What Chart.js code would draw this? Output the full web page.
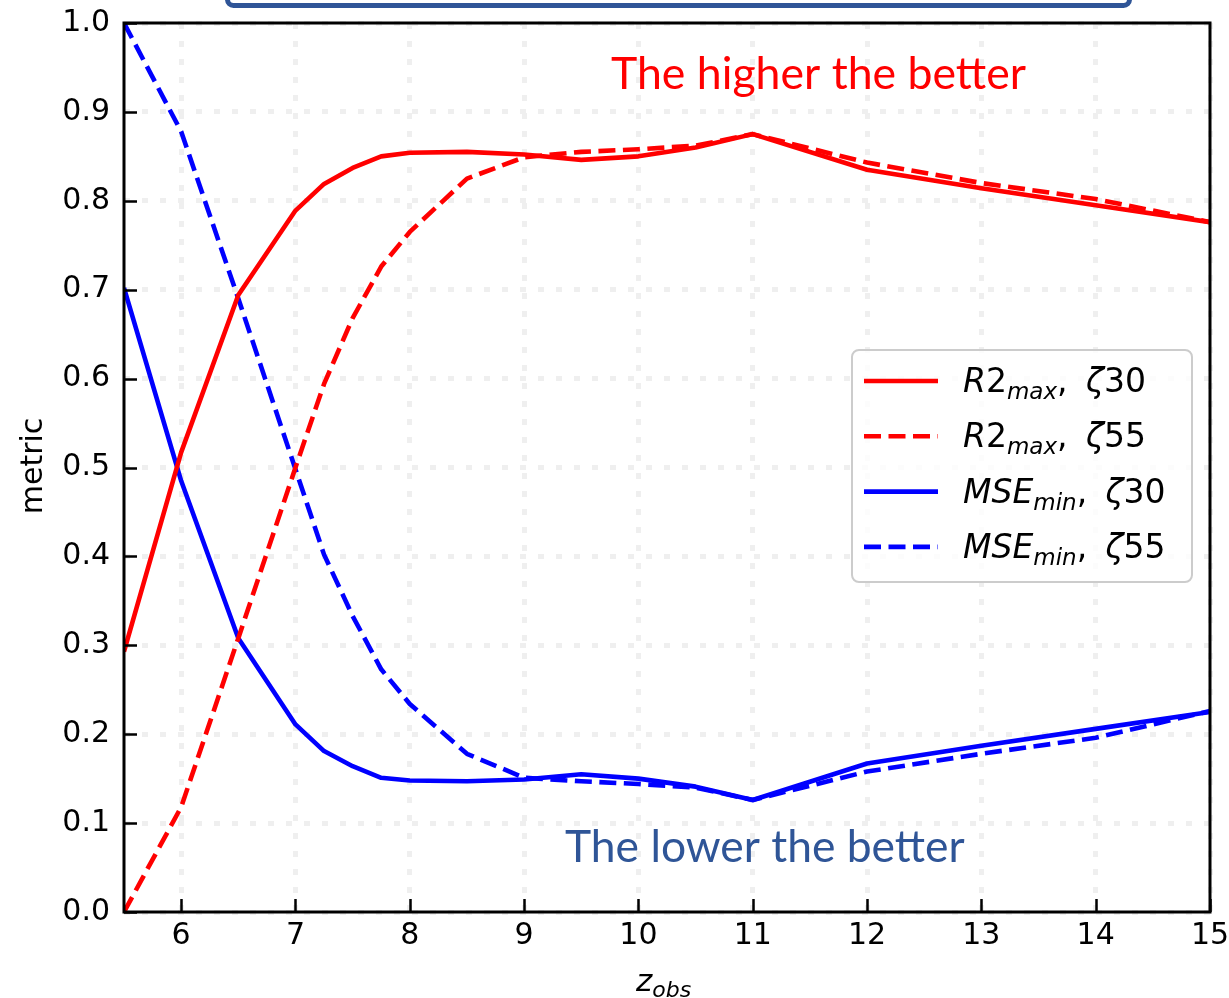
<!DOCTYPE html>
<html>
<head>
<meta charset="utf-8">
<script src="https://cdn.jsdelivr.net/npm/chart.js@4.4.1/dist/chart.umd.min.js"></script>
<style>
  html, body { margin: 0; padding: 0; background: #fff; }
  #wrap { width: 1229px; height: 998px; }
</style>
</head>
<body>
<div id="wrap"><canvas id="metricChart" width="1229" height="998"></canvas></div>
<script>
// z_obs sample positions
const zObs = [5.5, 6, 6.5, 7, 7.25, 7.5, 7.75, 8, 8.5, 9, 9.5, 10, 10.5, 11, 12, 13, 14, 15];

// series
const r2Zeta30 = [0.293, 0.517, 0.694, 0.789, 0.819, 0.837, 0.850, 0.854, 0.855, 0.852, 0.846, 0.850, 0.860, 0.875, 0.835, 0.814, 0.795, 0.776];
const r2Zeta55 = [0.0, 0.118, 0.308, 0.500, 0.594, 0.668, 0.726, 0.765, 0.825, 0.849, 0.855, 0.858, 0.862, 0.875, 0.843, 0.820, 0.802, 0.776];
const mseZeta30 = [0.702, 0.485, 0.308, 0.211, 0.181, 0.164, 0.151, 0.148, 0.147, 0.149, 0.155, 0.150, 0.141, 0.126, 0.167, 0.187, 0.206, 0.225];
const mseZeta55 = [1.0, 0.878, 0.690, 0.498, 0.402, 0.333, 0.273, 0.234, 0.178, 0.151, 0.147, 0.144, 0.140, 0.126, 0.158, 0.178, 0.196, 0.226];

// legend pieces
const seriesMetric = ['R2', 'R2', 'MSE', 'MSE'];
const seriesSub = ['max', 'max', 'min', 'min'];
const seriesZeta = ['30', '55', '30', '55'];

// ticks
const xTicks = [6, 7, 8, 9, 10, 11, 12, 13, 14, 15];
const yTicks = [0.0, 0.1, 0.2, 0.3, 0.4, 0.5, 0.6, 0.7, 0.8, 0.9, 1.0];

const annoHigh = 'The higher the better';
const annoLow = 'The lower the better';

function pts(ys) {
    return zObs.map(function(x, i) { return { x: x, y: ys[i] }; });
}

var seriesValues = [r2Zeta30, r2Zeta55, mseZeta30, mseZeta55];
var seriesColors = ['#ff0000', '#ff0000', '#0000ff', '#0000ff'];
var seriesDash = [[], [17, 7.5], [], [17, 7.5]];

var datasets = seriesValues.map(function(vals, i) {
    return {
        label: seriesMetric[i] + seriesSub[i] + ', ζ' + seriesZeta[i],
        data: pts(vals),
        borderColor: seriesColors[i],
        backgroundColor: seriesColors[i],
        borderWidth: 4.6,
        borderDash: seriesDash[i],
        borderJoinStyle: 'round',
        pointRadius: 0,
        tension: 0,
        fill: false
    };
});

var MATH = '"DejaVu Sans"';

// frame, inward ticks, legend, axis titles and the annotations
var decorations = {
    id: 'decorations',
    afterDraw: function(chart) {
        var ctx = chart.ctx;
        var a = chart.chartArea;
        var xs = chart.scales.x, ys = chart.scales.y;
        ctx.save();

        // inward ticks
        ctx.strokeStyle = '#000';
        ctx.lineWidth = 2.5;
        ctx.beginPath();
        xTicks.forEach(function(v) {
            var px = Math.round(xs.getPixelForValue(v)) + 0.5;
            ctx.moveTo(px, a.bottom);
            ctx.lineTo(px, a.bottom - 13);
        });
        yTicks.forEach(function(v) {
            var py = Math.round(ys.getPixelForValue(v)) + 0.5;
            ctx.moveTo(a.left, py);
            ctx.lineTo(a.left + 13, py);
        });
        ctx.stroke();

        // frame
        ctx.lineWidth = 3;
        ctx.strokeRect(a.left, a.top, a.right - a.left, a.bottom - a.top);

        // text box edge peeking in at the top
        ctx.strokeStyle = '#2f5597';
        ctx.lineWidth = 5;
        ctx.beginPath();
        ctx.roundRect(227.5, -40, 902, 45.5, 6);
        ctx.stroke();

        // annotations, scaled to their width in the figure
        ctx.textBaseline = 'alphabetic';
        ctx.textAlign = 'left';
        function fitText(txt, x, y, w, color) {
            ctx.font = '40px Lato';
            var s = 40 * w / ctx.measureText(txt).width;
            ctx.font = s.toFixed(1) + 'px Lato';
            ctx.fillStyle = color;
            ctx.fillText(txt, x, y);
        }
        fitText(annoHigh, 611, 89, 415, '#ff0000');
        fitText(annoLow, 565, 862, 400, '#2f5597');

        // axis titles
        ctx.fillStyle = '#000';
        ctx.font = '30px ' + MATH;
        ctx.save();
        ctx.translate(42, 466);
        ctx.rotate(-Math.PI / 2);
        ctx.textAlign = 'center';
        ctx.fillText('metric', 0, 0);
        ctx.restore();

        ctx.font = 'italic 31px ' + MATH;
        var zx = 636;
        ctx.fillText('z', zx, 991);
        zx += ctx.measureText('z').width;
        ctx.font = 'italic 22px ' + MATH;
        ctx.fillText('obs', zx, 997);

        // legend
        ctx.fillStyle = 'rgba(255,255,255,0.8)';
        ctx.strokeStyle = '#cccccc';
        ctx.lineWidth = 2;
        ctx.beginPath();
        ctx.roundRect(852, 350, 340, 232, 7);
        ctx.fill();
        ctx.stroke();

        chart.data.datasets.forEach(function(ds, i) {
            var base = 392 + i * 55.3;
            var cy = base - 11;
            ctx.strokeStyle = ds.borderColor;
            ctx.lineWidth = ds.borderWidth;
            ctx.setLineDash(ds.borderDash || []);
            ctx.beginPath();
            ctx.moveTo(864, cy);
            ctx.lineTo(938, cy);
            ctx.stroke();
            ctx.setLineDash([]);

            ctx.fillStyle = '#000';
            var tx = 963;
            var m = seriesMetric[i];
            if (m === 'R2') {
                ctx.font = 'italic 33px ' + MATH;
                ctx.fillText('R', tx, base);
                tx += ctx.measureText('R').width;
                ctx.font = '33px ' + MATH;
                ctx.fillText('2', tx, base);
                tx += ctx.measureText('2').width;
            } else {
                ctx.font = 'italic 33px ' + MATH;
                ctx.fillText(m, tx, base);
                tx += ctx.measureText(m).width;
            }
            ctx.font = 'italic 23px ' + MATH;
            ctx.fillText(seriesSub[i], tx, base + 7);
            tx += ctx.measureText(seriesSub[i]).width;
            ctx.font = '33px ' + MATH;
            ctx.fillText(', ', tx, base);
            tx += ctx.measureText(', ').width + 8;
            ctx.font = 'italic 33px ' + MATH;
            ctx.fillText('ζ', tx, base);
            tx += ctx.measureText('ζ').width;
            ctx.font = '33px ' + MATH;
            ctx.fillText(seriesZeta[i], tx, base);
        });

        ctx.restore();
    }
};

document.addEventListener('DOMContentLoaded', function() {
    var ctx = document.getElementById('metricChart').getContext('2d');
    var metricChart = new Chart(ctx, {
        type: 'line',
        data: { datasets: datasets },
        options: {
            responsive: false,
            animation: false,
            layout: { padding: { top: 23, right: 19, left: 0, bottom: 0 } },
            plugins: {
                legend: { display: false },
                tooltip: { enabled: false }
            },
            scales: {
                x: {
                    type: 'linear',
                    min: 5.5,
                    max: 15,
                    afterFit: function(s) {
                        s.height = 86;
                        s.paddingLeft = 0;
                        s.paddingRight = 0;
                    },
                    afterBuildTicks: function(s) {
                        s.ticks = xTicks.map(function(v) { return { value: v }; });
                    },
                    ticks: {
                        color: '#000',
                        font: { family: 'DejaVu Sans', size: 30 },
                        padding: 6,
                        maxRotation: 0,
                        autoSkip: false
                    },
                    grid: { color: '#efefef', lineWidth: 5, drawTicks: false },
                    border: { display: false, dash: [6, 12] }
                },
                y: {
                    min: 0,
                    max: 1,
                    afterFit: function(s) {
                        s.width = 124;
                        s.paddingTop = 0;
                        s.paddingBottom = 0;
                    },
                    afterBuildTicks: function(s) {
                        s.ticks = yTicks.map(function(v) { return { value: v }; });
                    },
                    ticks: {
                        color: '#000',
                        font: { family: 'DejaVu Sans', size: 30 },
                        padding: 14,
                        autoSkip: false,
                        callback: function(v) { return Number(v).toFixed(1); }
                    },
                    grid: { color: '#efefef', lineWidth: 5, drawTicks: false },
                    border: { display: false, dash: [6, 12] }
                }
            }
        },
        plugins: [decorations]
    });
});
</script>
</body>
</html>
